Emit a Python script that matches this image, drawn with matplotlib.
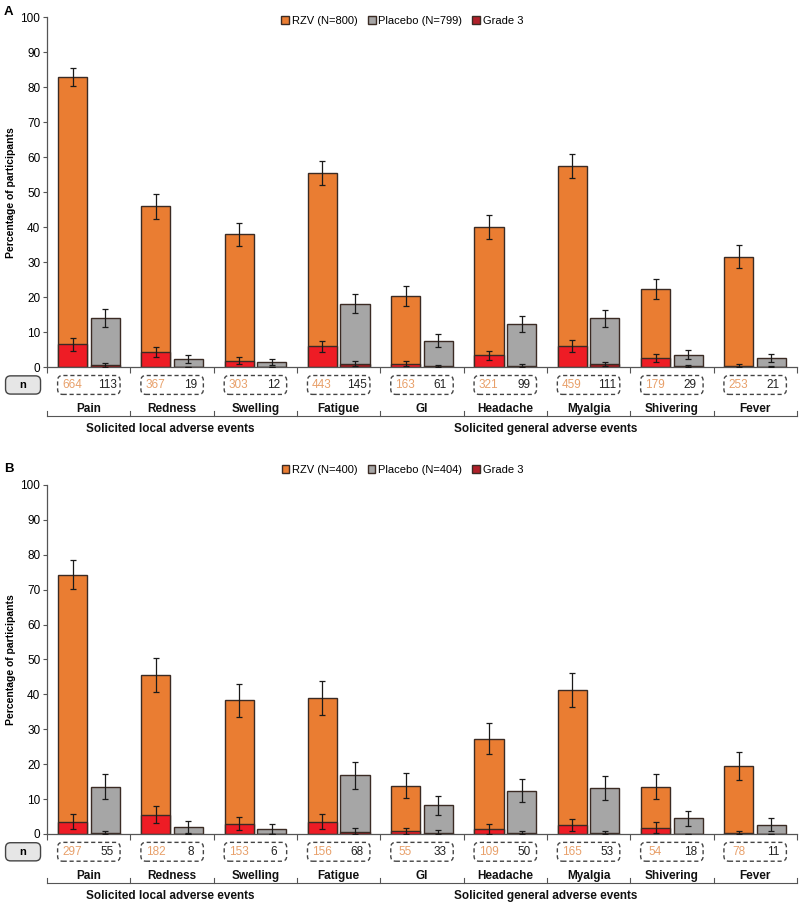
import matplotlib
matplotlib.use('Agg')
import matplotlib.pyplot as plt
import matplotlib.transforms as mtransforms
from matplotlib.patches import FancyBboxPatch, Patch
import numpy as np

plt.rcParams['font.family'] = ['Liberation Sans', 'DejaVu Sans']

categories = ['Pain', 'Redness', 'Swelling', 'Fatigue', 'GI', 'Headache', 'Myalgia', 'Shivering', 'Fever']
groups = [('Solicited local adverse events', 0, 2), ('Solicited general adverse events', 3, 8)]

# panel A
a_legend = ['RZV (N=800)', 'Placebo (N=799)', 'Grade 3']
a_rzv = [83.0, 45.9, 37.9, 55.4, 20.4, 40.1, 57.4, 22.4, 31.6]
a_pbo = [14.1, 2.4, 1.5, 18.1, 7.6, 12.4, 13.9, 3.6, 2.6]
a_rzv_g3 = [6.5, 4.3, 1.8, 5.9, 1.0, 3.4, 6.1, 2.6, 0.4]
a_pbo_g3 = [0.6, 0.0, 0.0, 1.0, 0.3, 0.4, 0.9, 0.2, 0.1]
a_rzv_err = [2.6, 3.5, 3.4, 3.4, 2.8, 3.4, 3.4, 2.9, 3.2]
a_pbo_err = [2.5, 1.1, 0.9, 2.7, 1.9, 2.3, 2.4, 1.3, 1.1]
a_rzv_g3_err = [1.8, 1.5, 1.0, 1.7, 0.7, 1.3, 1.7, 1.1, 0.4]
a_pbo_g3_err = [0.5, 0.0, 0.0, 0.8, 0.3, 0.4, 0.7, 0.3, 0.2]
a_rzv_n = [664, 367, 303, 443, 163, 321, 459, 179, 253]
a_pbo_n = [113, 19, 12, 145, 61, 99, 111, 29, 21]

# panel B
b_legend = ['RZV (N=400)', 'Placebo (N=404)', 'Grade 3']
b_rzv = [74.3, 45.5, 38.3, 39.0, 13.8, 27.3, 41.3, 13.5, 19.5]
b_pbo = [13.6, 2.0, 1.5, 16.8, 8.2, 12.4, 13.1, 4.5, 2.7]
b_rzv_g3 = [3.5, 5.5, 3.0, 3.5, 0.8, 1.5, 2.5, 1.8, 0.3]
b_pbo_g3 = [0.2, 0.0, 0.0, 0.7, 0.3, 0.3, 0.2, 0.0, 0.0]
b_rzv_err = [4.2, 4.9, 4.8, 4.8, 3.6, 4.5, 4.8, 3.6, 4.0]
b_pbo_err = [3.5, 1.6, 1.4, 3.8, 2.8, 3.3, 3.4, 2.2, 1.8]
b_rzv_g3_err = [2.1, 2.4, 1.9, 2.1, 1.0, 1.4, 1.7, 1.5, 0.5]
b_pbo_g3_err = [0.6, 0.0, 0.0, 1.0, 0.7, 0.6, 0.6, 0.0, 0.0]
b_rzv_n = [297, 182, 153, 156, 55, 109, 165, 54, 78]
b_pbo_n = [55, 8, 6, 68, 33, 50, 53, 18, 11]

ORANGE = '#EA7D32'
GREY = '#A6A6A6'
RED = '#EE1C25'
DARKRED = '#A0191E'
EDGE = '#3b2b24'
NUM_ORANGE = '#E8A06A'


def draw_panel(ax, rzv, pbo, rzv_g3, pbo_g3, rzv_err, pbo_err, rzv_g3_err, pbo_g3_err, rzv_n, pbo_n):
    x = np.arange(len(categories))
    w = 0.35
    off = 0.195
    kw = dict(width=w, edgecolor=EDGE, linewidth=1.0, zorder=2)
    ax.bar(x - off, rzv, color=ORANGE, **kw)
    ax.bar(x + off, pbo, color=GREY, **kw)
    ax.bar(x - off, rzv_g3, color=RED, **kw)
    ax.bar(x + off, pbo_g3, color=DARKRED, **kw)

    ekw = dict(fmt='none', ecolor='#1a1a1a', elinewidth=0.9, capsize=2.2, capthick=0.9, zorder=3)
    ax.errorbar(x - off, rzv, yerr=rzv_err, **ekw)
    ax.errorbar(x + off, pbo, yerr=pbo_err, **ekw)
    lo = np.minimum(rzv_g3_err, rzv_g3)
    ax.errorbar(x - off, rzv_g3, yerr=[lo, rzv_g3_err], **ekw)
    lo = np.minimum(pbo_g3_err, pbo_g3)
    ax.errorbar(x + off, pbo_g3, yerr=[lo, pbo_g3_err], **ekw)

    ax.set_xlim(-0.5, len(categories) - 0.5)
    ax.set_ylim(0, 100)
    ax.set_yticks(np.arange(0, 101, 10))
    ax.set_xticks(np.arange(len(categories) + 1) - 0.5)
    ax.set_xticklabels([])
    ax.tick_params(axis='x', length=4, width=0.8, color='#555555', direction='out')
    ax.tick_params(axis='y', length=3, width=0.8, color='#555555', labelsize=8.5, pad=2)
    for s in ['top', 'right']:
        ax.spines[s].set_visible(False)
    for s in ['left', 'bottom']:
        ax.spines[s].set_color('#555555')
        ax.spines[s].set_linewidth(0.9)
    ax.set_ylabel('Percentage of participants', fontsize=7.5, fontweight='bold', labelpad=3)

    trans = mtransforms.blended_transform_factory(ax.transData, ax.transAxes)
    yc = -0.051
    # n boxes
    for i in x:
        box = FancyBboxPatch((i - 0.375, yc - 0.027), 0.75, 0.054,
                             boxstyle='round,pad=0,rounding_size=0.06', mutation_aspect=0.24,
                             transform=trans, clip_on=False, facecolor='none',
                             edgecolor='#444444', linestyle=(0, (3, 2)), linewidth=1.0)
        ax.add_patch(box)
        ax.text(i - 0.2, yc, str(rzv_n[i]), transform=trans, ha='center', va='center',
                fontsize=8.5, color=NUM_ORANGE)
        ax.text(i + 0.22, yc, str(pbo_n[i]), transform=trans, ha='center', va='center',
                fontsize=8.5, color='#222222')
        ax.text(i, -0.12, categories[i], transform=trans, ha='center', va='center',
                fontsize=8.5, fontweight='bold', color='#111111')

    # bracket line under category labels
    n = len(categories)
    ax.plot([-0.5, n - 0.5], [-0.14, -0.14], transform=trans, clip_on=False,
            color='#555555', lw=0.8)
    for i in range(n + 1):
        ax.plot([i - 0.5, i - 0.5], [-0.14, -0.125], transform=trans, clip_on=False,
                color='#555555', lw=0.8)
    for label, a, b in groups:
        ax.text((a + b) / 2.0 - 0.02, -0.178, label, transform=trans, ha='center', va='center',
                fontsize=8.5, fontweight='bold', color='#111111')

    # "n" row label
    nbox = FancyBboxPatch((-1.0, yc - 0.026), 0.42, 0.052,
                          boxstyle='round,pad=0,rounding_size=0.06', mutation_aspect=0.24,
                          transform=trans, clip_on=False, facecolor='#e6e6e6',
                          edgecolor='#444444', linewidth=1.0)
    ax.add_patch(nbox)
    ax.text(-0.79, yc, 'n', transform=trans, ha='center', va='center', fontsize=8,
            fontweight='bold')


def add_legend(fig, labels, y):
    handles = [Patch(facecolor=ORANGE, edgecolor=EDGE, label=labels[0]),
               Patch(facecolor=GREY, edgecolor=EDGE, label=labels[1]),
               Patch(facecolor='#B0202A', edgecolor=EDGE, label=labels[2])]
    fig.legend(handles=handles, loc='center', bbox_to_anchor=(0.503, y), ncol=3, frameon=False,
               fontsize=8, handlelength=0.7, handleheight=0.7, handletextpad=0.25,
               columnspacing=0.9)


fig = plt.figure(figsize=(8, 9.02), dpi=100)
axA = fig.add_axes([0.059, 0.593, 0.937, 0.388])
axB = fig.add_axes([0.059, 0.0754, 0.937, 0.387])

draw_panel(axA, a_rzv, a_pbo, a_rzv_g3, a_pbo_g3, a_rzv_err, a_pbo_err, a_rzv_g3_err, a_pbo_g3_err,
           a_rzv_n, a_pbo_n)
draw_panel(axB, b_rzv, b_pbo, b_rzv_g3, b_pbo_g3, b_rzv_err, b_pbo_err, b_rzv_g3_err, b_pbo_g3_err,
           b_rzv_n, b_pbo_n)

add_legend(fig, a_legend, 0.977)
add_legend(fig, b_legend, 0.479)

fig.text(0.005, 0.993, 'A', fontsize=9.5, fontweight='bold', va='top', ha='left')
fig.text(0.005, 0.487, 'B', fontsize=9.5, fontweight='bold', va='top', ha='left')

fig.savefig('out.png', dpi=100)
